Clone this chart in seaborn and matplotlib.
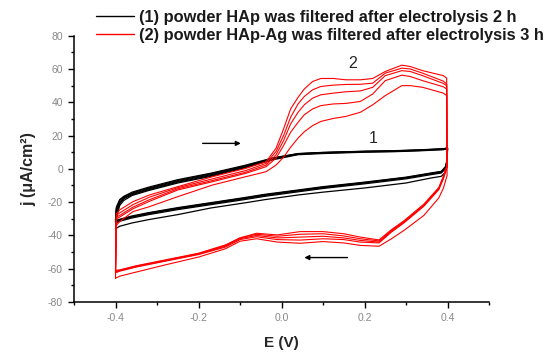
import numpy as np
import pandas as pd
import matplotlib
matplotlib.use("Agg")
import matplotlib.pyplot as plt
import seaborn as sns
from matplotlib.lines import Line2D
from matplotlib.ticker import MultipleLocator, FixedLocator, FixedFormatter

# ---------------- data ----------------
# sample (1): powder HAp, 5 cycles. anodic (upper) and cathodic (lower) branches
black_E_up = [-0.400, -0.398, -0.39, -0.38, -0.36, -0.32, -0.25, -0.17, -0.09, -0.02,
              0.04, 0.10, 0.20, 0.27, 0.33, 0.39, 0.400]
black_up_1 = [-36, -30, -22, -19, -16, -13, -8.5, -4.5, 0.5, 5.5, 8.5, 9.2, 10.0, 10.3, 10.8, 11.5, 12.0]
black_up_2 = [-32, -27, -21, -18, -15.5, -12.5, -8, -4, 1, 6, 8.8, 9.5, 10.2, 10.5, 11, 11.7, 12.2]
black_up_3 = [-31.5, -25.5, -20, -17.5, -15, -12, -7.5, -3.5, 1.3, 6.2, 9, 9.7, 10.4, 10.7, 11.2, 11.9, 12.4]
black_up_4 = [-31, -24, -19, -17, -14.5, -11.5, -7, -3, 1.6, 6.4, 9.1, 9.8, 10.5, 10.8, 11.3, 12, 12.5]
black_up_5 = [-30.5, -23, -18.5, -16.5, -14, -11, -6.5, -2.6, 2, 6.6, 9.2, 9.9, 10.6, 10.9, 11.4, 12.1, 12.6]

black_E_dn = [0.400, 0.399, 0.395, 0.385, 0.36, 0.30, 0.20, 0.10, 0.04, -0.04, -0.09, -0.17,
              -0.25, -0.32, -0.36, -0.39, -0.400]
black_dn_1 = [12, 2, -2, -4.5, -5.5, -8.5, -11.5, -14, -15.7, -18.5, -20.5, -23.5, -27.5, -30.5, -32.5, -34.5, -36]
black_dn_2 = [12.2, 4, 0, -2.5, -3.5, -6, -9, -11.8, -13.8, -16.5, -18.5, -21.5, -24.5, -27.5, -29.5, -31.5, -32.5]
black_dn_3 = [12.4, 4.5, 0.5, -2, -3, -5.5, -8.5, -11.3, -13.3, -16, -18, -21, -24, -27, -29, -31, -32]
black_dn_4 = [12.5, 5, 1, -1.7, -2.7, -5.2, -8.2, -11, -13, -15.6, -17.6, -20.6, -23.6, -26.6, -28.6, -30.6, -31.5]
black_dn_5 = [12.6, 5.5, 1.3, -1.5, -2.5, -5, -8, -10.7, -12.7, -15.3, -17.3, -20.3, -23.3, -26.3, -28.3, -30.3, -31]

# sample (2): powder HAp-Ag, 5 cycles
red_E_up = [-0.400, -0.398, -0.39, -0.358, -0.318, -0.25, -0.166, -0.086, -0.037, -0.013,
            0.005, 0.022, 0.04, 0.055, 0.075, 0.095, 0.125, 0.155, 0.19, 0.22, 0.25,
            0.29, 0.31, 0.34, 0.39, 0.398]
red_up_1 = [-65.7, -34, -31.7, -25.7, -22.7, -16.7, -9.7, -4.7, -1.7, 2.3, 7, 13, 18.5, 22.3, 26,
            28.5, 30.3, 31.5, 34, 38.5, 44, 50, 50, 49, 45.5, 44]
red_up_2 = [-62.5, -30, -29, -24, -19.5, -12.7, -7.7, -2.7, 1.3, 6.5, 14, 22, 28, 32.5, 36,
            38, 39, 39.3, 40.5, 45, 53, 56.3, 55.5, 53, 49.3, 48]
red_up_3 = [-62, -29, -28, -23, -18.5, -12, -7, -2, 2.3, 8.5, 17, 27, 34, 38.5, 42.5,
            44.5, 45.5, 46.3, 46.8, 49, 56, 59, 58.5, 56, 51.3, 50]
red_up_4 = [-61.5, -28, -26.5, -21.5, -17, -11.3, -6, -1, 3.3, 10.5, 20, 31, 39, 43.5, 47.5,
            49.5, 50.3, 50.7, 50.8, 51.5, 57.5, 60.5, 60, 57.5, 52.7, 51]
red_up_5 = [-61, -27, -24.7, -19.7, -15.7, -10.7, -4.7, 0.3, 4.3, 12.5, 24, 36, 43, 48, 52.5,
            54.3, 54.3, 53.5, 53.5, 54.3, 58.5, 62.3, 61.5, 59, 56, 54.5]

red_E_dn = [0.399, 0.39, 0.379, 0.343, 0.295, 0.265, 0.235, 0.19, 0.15, 0.10, 0.045, -0.01,
            -0.06, -0.10, -0.135, -0.20, -0.28, -0.35, -0.39, -0.400]
red_dn_1 = [-4, -11.7, -17.5, -28, -37, -42, -46.5, -46, -44.5, -43.7, -44.7, -44, -42, -43.5,
            -48, -53, -57.7, -62, -64.5, -65.7]
red_dn_2 = [1, -6, -12.5, -22.5, -32.5, -38, -44.5, -44, -42.5, -42, -42.8, -42.5, -40.8, -42.5,
            -47, -51.5, -55.5, -59, -61.5, -62.5]
red_dn_3 = [1.5, -5.5, -12, -22, -32, -37.5, -44, -43, -41.5, -40.5, -41, -41.5, -40, -42,
            -46.5, -51.2, -55.2, -58.7, -61.2, -62]
red_dn_4 = [2, -5, -11.7, -21.7, -31.7, -37, -43.3, -42, -40.3, -39, -39.3, -40.5, -39.3, -41.5,
            -46, -51, -55, -58.5, -61, -61.5]
red_dn_5 = [2.5, -4.5, -11.2, -21.2, -31.2, -36.5, -42.7, -41, -39, -37.7, -37.7, -39.7, -38.7,
            -41.5, -45.7, -50.7, -54.7, -58.2, -60.7, -61]

legend_labels = ["(1) powder HAp was filtered after electrolysis 2 h",
                 "(2) powder HAp-Ag was filtered after electrolysis 3 h"]
x_ticks = [-0.4, -0.2, 0.0, 0.2, 0.4]
x_tick_labels = ["-0.4", "-0.2", "0.0", "0.2", "0.4"]
y_ticks = [-80, -60, -40, -20, 0, 20, 40, 60, 80]
y_tick_labels = ["-80", "-60", "-40", "-20", "0", "20", "40", "60", "80"]
curve_labels = ["1", "2"]

# ---------------- build long table ----------------
rows = []
black_up = [black_up_1, black_up_2, black_up_3, black_up_4, black_up_5]
black_dn = [black_dn_1, black_dn_2, black_dn_3, black_dn_4, black_dn_5]
red_up = [red_up_1, red_up_2, red_up_3, red_up_4, red_up_5]
red_dn = [red_dn_1, red_dn_2, red_dn_3, red_dn_4, red_dn_5]
for k in range(5):
    E = list(black_E_up) + list(black_E_dn)
    J = list(black_up[k]) + list(black_dn[k])
    for i, (e, j) in enumerate(zip(E, J)):
        rows.append(dict(sample="1", cycle=f"b{k}", order=i, E=e, j=j))
for k in range(5):
    E = list(red_E_up) + list(red_E_dn)
    J = list(red_up[k]) + list(red_dn[k])
    for i, (e, j) in enumerate(zip(E, J)):
        rows.append(dict(sample="2", cycle=f"r{k}", order=i, E=e, j=j))
df = pd.DataFrame(rows)

# ---------------- plot ----------------
sns.set_style("white")
plt.rcParams["font.family"] = ["Liberation Sans", "DejaVu Sans"]

fig = plt.figure(figsize=(5.5, 3.53), dpi=100)
ax = fig.add_axes([74 / 550, 1 - 302 / 353, (489 - 74) / 550, (302 - 35.7) / 353])

sns.lineplot(data=df[df["sample"] == "1"], x="E", y="j", units="cycle", estimator=None,
             sort=False, color="black", lw=0.9, ax=ax, legend=False)
sns.lineplot(data=df[df["sample"] == "2"], x="E", y="j", units="cycle", estimator=None,
             sort=False, color="#ff0000", lw=0.8, ax=ax, legend=False)

ax.set_xlim(-0.5, 0.5)
ax.set_ylim(-80, 80)
for s in ["top", "right"]:
    ax.spines[s].set_visible(False)
for s in ["left", "bottom"]:
    ax.spines[s].set_color("black")
    ax.spines[s].set_linewidth(1.1)

ax.xaxis.set_major_locator(FixedLocator(x_ticks))
ax.xaxis.set_major_formatter(FixedFormatter(x_tick_labels))
ax.xaxis.set_minor_locator(MultipleLocator(0.1))
ax.yaxis.set_major_locator(FixedLocator(y_ticks))
ax.yaxis.set_major_formatter(FixedFormatter(y_tick_labels))
ax.yaxis.set_minor_locator(MultipleLocator(10))
ax.tick_params(which="major", direction="out", length=4, width=1, color="black",
               labelsize=7.5, labelcolor="#888888", pad=4,
               bottom=True, left=True)
ax.tick_params(which="minor", direction="out", length=2.5, width=1, color="black",
               bottom=True, left=True)

ax.set_xlabel("E (V)", fontsize=11, fontweight="bold", labelpad=9)
ax.set_ylabel("j (μA/cm²)", fontsize=11.5, fontweight="bold", labelpad=8)

ax.text(0.172, 63.4, curve_labels[1], fontsize=11.5, ha="center", va="center")
ax.text(0.22, 18.5, curve_labels[0], fontsize=11.5, ha="center", va="center")

ax.annotate("", xy=(-0.098, 15.3), xytext=(-0.19, 15.3),
            arrowprops=dict(arrowstyle="-|>", color="black", lw=1, mutation_scale=7,
                            shrinkA=0, shrinkB=0))
ax.annotate("", xy=(0.055, -53.3), xytext=(0.159, -53.3),
            arrowprops=dict(arrowstyle="-|>", color="black", lw=1, mutation_scale=7,
                            shrinkA=0, shrinkB=0))

handles = [Line2D([0], [0], color="black", lw=1), Line2D([0], [0], color="#ff0000", lw=1)]
fig.legend(handles, legend_labels, loc="upper left", bbox_to_anchor=(96 / 550, 1 - 10 / 353),
           frameon=False, handlelength=2.3, handletextpad=0.3, labelspacing=0.16,
           borderpad=0, borderaxespad=0, prop=dict(size=11.8, weight="bold"),
           labelcolor="#1a1a1a")

fig.savefig("out.png", dpi=100)
